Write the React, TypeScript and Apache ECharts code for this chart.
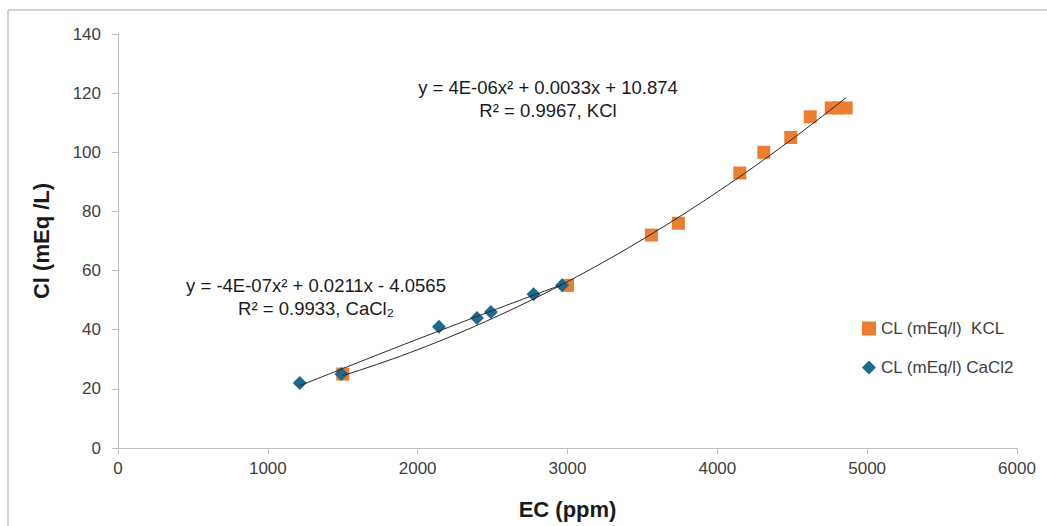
import React, { useEffect, useRef } from "react";
import * as echarts from "echarts";

const kclEC = [1500, 3000, 3560, 3740, 4150, 4310, 4490, 4620, 4760, 4810, 4860];
const kclCl = [25, 55, 72, 76, 93, 100, 105, 112, 115, 115, 115];
const cacl2EC = [1213, 1491, 2142, 2396, 2489, 2773, 2964];
const cacl2Cl = [22, 25, 41, 44, 46, 52, 55];

const kclEquation = ["y = 4E-06x² + 0.0033x + 10.874", "R² = 0.9967, KCl"];
const cacl2Equation = ["y = -4E-07x² + 0.0211x - 4.0565", "R² = 0.9933, CaCl₂"];

const xTicks = { min: 0, max: 6000, interval: 1000 };
const yTicks = { min: 0, max: 140, interval: 20 };

// least-squares quadratic fit (what the chart's polynomial trendline represents)
function quadFit(xs: number[], ys: number[]) {
  const n = xs.length;
  let s0 = n, s1 = 0, s2 = 0, s3 = 0, s4 = 0, t0 = 0, t1 = 0, t2 = 0;
  for (let i = 0; i < n; i++) {
    const x = xs[i] / 1000, y = ys[i];
    s1 += x; s2 += x * x; s3 += x * x * x; s4 += x * x * x * x;
    t0 += y; t1 += x * y; t2 += x * x * y;
  }
  const M = [
    [s0, s1, s2, t0],
    [s1, s2, s3, t1],
    [s2, s3, s4, t2],
  ];
  for (let c = 0; c < 3; c++) {
    let p = c;
    for (let r = c + 1; r < 3; r++) if (Math.abs(M[r][c]) > Math.abs(M[p][c])) p = r;
    [M[c], M[p]] = [M[p], M[c]];
    for (let r = 0; r < 3; r++) {
      if (r === c) continue;
      const f = M[r][c] / M[c][c];
      for (let k = c; k < 4; k++) M[r][k] -= f * M[c][k];
    }
  }
  const a0 = M[0][3] / M[0][0], a1 = M[1][3] / M[1][1], a2 = M[2][3] / M[2][2];
  return (x: number) => {
    const u = x / 1000;
    return a0 + a1 * u + a2 * u * u;
  };
}

function trend(xs: number[], ys: number[]) {
  const f = quadFit(xs, ys);
  const lo = Math.min(...xs), hi = Math.max(...xs);
  const pts: number[][] = [];
  const steps = 60;
  for (let i = 0; i <= steps; i++) {
    const x = lo + ((hi - lo) * i) / steps;
    pts.push([x, f(x)]);
  }
  return pts;
}

export default function App() {
  const ref = useRef<HTMLDivElement>(null);
  useEffect(() => {
    if (!ref.current) return;
    const chart = echarts.init(ref.current, null, { renderer: "svg" });
    const font = "'Liberation Sans', Arial, sans-serif";
    const eqStyle = { fontSize: 18.5, fill: "#1a1a1a", align: "center", verticalAlign: "middle", fontFamily: font };
    chart.setOption({
      animation: false,
      backgroundColor: "#ffffff",
      textStyle: { fontFamily: font },
      grid: { left: 118, right: 30, top: 34, bottom: 78, containLabel: false },
      xAxis: {
        type: "value",
        ...xTicks,
        name: "EC (ppm)",
        nameLocation: "middle",
        nameGap: 50,
        nameTextStyle: { fontSize: 22, fontWeight: "bold", color: "#1a1a1a", fontFamily: font },
        axisLine: { show: true, lineStyle: { color: "#bfbfbf", width: 1 } },
        axisTick: { show: true, length: 6, lineStyle: { color: "#bfbfbf" } },
        axisLabel: { fontSize: 17, color: "#404040", margin: 12, fontFamily: font, formatter: (v: number) => String(v) },
        splitLine: { show: false },
      },
      yAxis: {
        type: "value",
        ...yTicks,
        name: "Cl (mEq /L)",
        nameLocation: "middle",
        nameGap: 66,
        nameRotate: 90,
        nameTextStyle: { fontSize: 22, fontWeight: "bold", color: "#1a1a1a", fontFamily: font },
        axisLine: { show: true, lineStyle: { color: "#bfbfbf", width: 1 } },
        axisTick: { show: true, length: 6, lineStyle: { color: "#bfbfbf" } },
        axisLabel: { fontSize: 17, color: "#404040", margin: 17, fontFamily: font, formatter: (v: number) => String(v) },
        splitLine: { show: false },
      },
      legend: {
        orient: "vertical",
        left: 857,
        top: 315,
        itemGap: 22,
        itemWidth: 14,
        itemHeight: 14,
        textStyle: { fontSize: 17, color: "#404040", fontFamily: font },
        data: [
          { name: "CL (mEq/l)  KCL", icon: "rect", itemStyle: { opacity: 1 } },
          { name: "CL (mEq/l) CaCl2", icon: "diamond", itemStyle: { opacity: 1 } },
        ],
      },
      graphic: [
        { type: "line", shape: { x1: 8, y1: 10, x2: 1047, y2: 10 }, style: { stroke: "#a6a6a6", lineWidth: 1 } },
        { type: "line", shape: { x1: 8, y1: 10, x2: 8, y2: 526 }, style: { stroke: "#a6a6a6", lineWidth: 1 } },
        { type: "text", x: 548, y: 87, style: { text: kclEquation[0], ...eqStyle } },
        { type: "text", x: 548, y: 110, style: { text: kclEquation[1], ...eqStyle } },
        { type: "text", x: 316, y: 285, style: { text: cacl2Equation[0], ...eqStyle } },
        { type: "text", x: 316, y: 308, style: { text: cacl2Equation[1], ...eqStyle } },
      ],
      series: [
        {
          name: "CL (mEq/l)  KCL",
          type: "scatter",
          symbol: "rect",
          symbolSize: 13,
          itemStyle: { color: "#ED7D31", opacity: 1 },
          data: kclEC.map((x, i) => [x, kclCl[i]]),
          z: 2,
        },
        {
          name: "CL (mEq/l) CaCl2",
          type: "scatter",
          symbol: "diamond",
          symbolSize: 14,
          itemStyle: { color: "#1D6A8F", opacity: 1 },
          data: cacl2EC.map((x, i) => [x, cacl2Cl[i]]),
          z: 3,
        },
        {
          name: "kcl-trend",
          type: "line",
          data: trend(kclEC, kclCl),
          showSymbol: false,
          symbol: "none",
          lineStyle: { color: "#262626", width: 1 },
          z: 4,
          silent: true,
        },
        {
          name: "cacl2-trend",
          type: "line",
          data: trend(cacl2EC, cacl2Cl),
          showSymbol: false,
          symbol: "none",
          lineStyle: { color: "#262626", width: 1 },
          z: 4,
          silent: true,
        },
      ],
    });
    return () => chart.dispose();
  }, []);
  return (
    <div style={{ position: "fixed", left: 0, top: 0, width: 1047, height: 526, background: "#fff" }}>
      <div ref={ref} style={{ width: 1047, height: 526 }} />
    </div>
  );
}
